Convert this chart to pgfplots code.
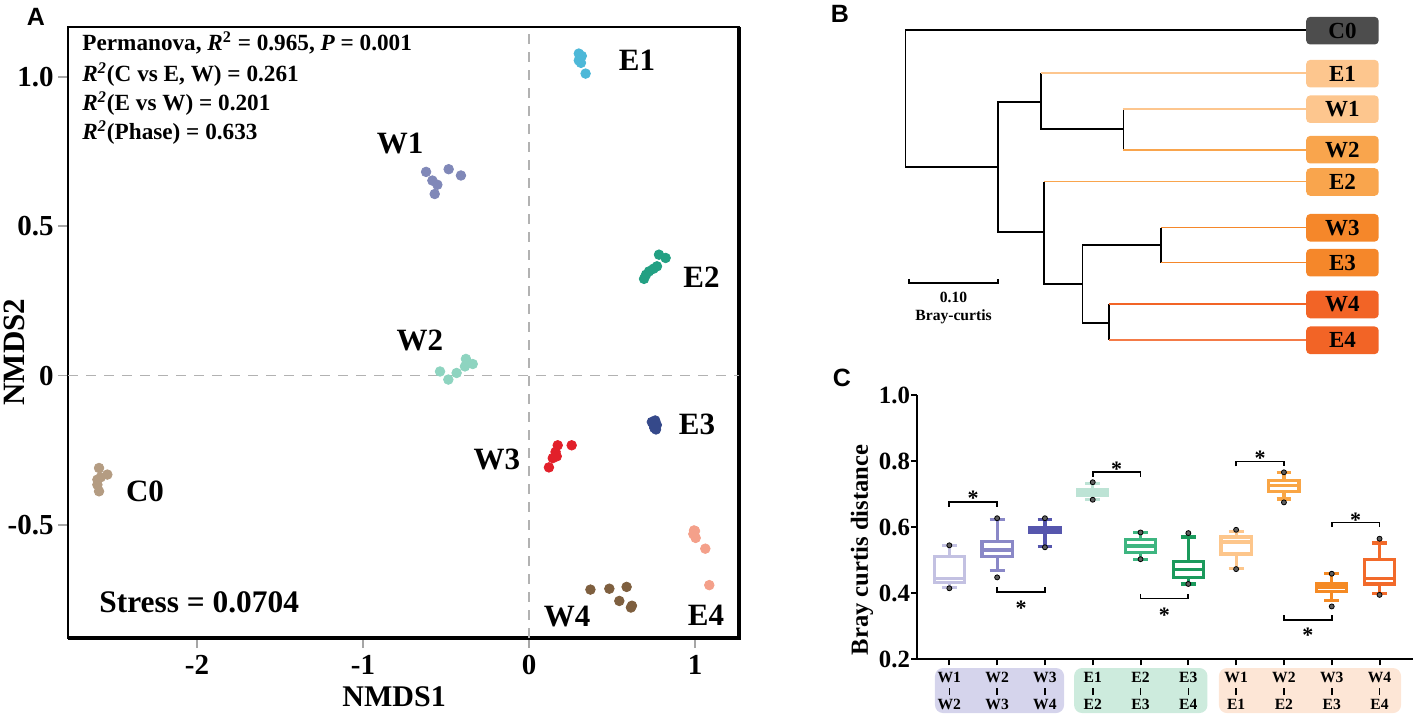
\documentclass[border=0pt]{standalone}
\usepackage{fontspec}
\setmainfont{Liberation Serif}
\newfontfamily\sansfont{Liberation Sans}
\usepackage{pgfplots}
\pgfplotsset{compat=1.18}
\usepgfplotslibrary{statistics}

% scatter colours
\definecolor{cE1}{HTML}{4DB8D8}
\definecolor{cW1}{HTML}{8088B8}
\definecolor{cE2}{HTML}{23A083}
\definecolor{cW2}{HTML}{8ED4C0}
\definecolor{cE3}{HTML}{35498A}
\definecolor{cW3}{HTML}{E2202A}
\definecolor{cC0}{HTML}{B49C82}
\definecolor{cW4}{HTML}{7E5F3F}
\definecolor{cE4}{HTML}{F4A08A}
% dendrogram leaves
\definecolor{lC0}{HTML}{4D4D4D}
\definecolor{lL1}{HTML}{FDC68E}
\definecolor{lL2}{HTML}{F9A54D}
\definecolor{lL3}{HTML}{F5872A}
\definecolor{lL4}{HTML}{F26426}
% boxes
\definecolor{b1}{HTML}{C3C1E2}
\definecolor{b2}{HTML}{8A88C7}
\definecolor{b3}{HTML}{5656AD}
\definecolor{b4}{HTML}{BDE3D5}
\definecolor{b5}{HTML}{3DB580}
\definecolor{b6}{HTML}{1B9A5C}
\definecolor{b7}{HTML}{FDC68B}
\definecolor{b8}{HTML}{F9A545}
\definecolor{b9}{HTML}{F58A24}
\definecolor{b10}{HTML}{F26A2A}
\definecolor{g1}{HTML}{D5D4EC}
\definecolor{g2}{HTML}{CDEBDD}
\definecolor{g3}{HTML}{FDE6D6}
\definecolor{dotgray}{HTML}{5F5F5F}

% 1 px of the 1413 x 714 reference = 0.5bp
\newcommand{\fs}[1]{\fontsize{#1bp}{#1bp}\selectfont}
\newcommand{\pair}[2]{#1\\\rule[0.6bp]{0.8bp}{3.6bp}\\#2}

\pgfplotsset{
  bx/.style={boxplot prepared={#1}, line width=1.6bp,
    boxplot/every box/.style={fill=white},
    boxplot/draw direction=y, boxplot/box extend=0.63, boxplot/whisker extend=0.31},
}

\begin{document}
\begin{tikzpicture}
\path[use as bounding box] (0,0) rectangle (706.5bp,357bp);

\node[font=\sansfont\bfseries\fs{12.5}] at (18bp,348.5bp) {A};
\node[font=\sansfont\bfseries\fs{12.5}] at (420bp,350bp) {B};
\node[font=\sansfont\bfseries\fs{12.5}] at (421bp,168bp) {C};

%%%%%%%%%%%%%%%% panel A : NMDS
\begin{axis}[
  at={(34bp,38bp)}, anchor=south west, scale only axis,
  width=335.5bp, height=305.5bp,
  xmin=-2.777, xmax=1.265, ymin=-0.878, ymax=1.167,
  xtick={-2,-1,0,1}, xticklabels={-2,-1,0,1},
  ytick={-0.5,0,0.5,1}, yticklabels={-0.5,0,0.5,1.0},
  tick pos=left, tick align=outside, major tick length=5bp,
  tick style={draw=gray!70, line width=0.8bp},
  tick label style={font=\bfseries\fs{14.5}},
  yticklabel style={inner xsep=2bp},
  axis line style={line width=1bp},
  xlabel={NMDS1}, ylabel={NMDS2},
  xlabel style={font=\bfseries\fs{15}, at={(axis description cs:0.486,-0.0966)}, anchor=center},
  ylabel style={font=\bfseries\fs{15.5}, inner sep=0pt, at={(axis description cs:-0.0805,0.468)}, anchor=center, rotate=0},
  clip=false,
]
\draw[line width=2bp] (rel axis cs:0,0) -- (rel axis cs:1,0) -- (rel axis cs:1,1);
\addplot[gray!60, line width=0.8bp, dash pattern=on 5bp off 4bp] coordinates {(0,-0.878) (0,1.167)};
\addplot[gray!60, line width=0.8bp, dash pattern=on 5bp off 4bp] coordinates {(-2.777,0) (1.265,0)};

\addplot[only marks, mark=*, mark size=2.4bp, cE1] coordinates {(0.300,1.078)(0.307,1.065)(0.313,1.047)(0.300,1.055)(0.318,1.070)(0.341,1.011)};
\addplot[only marks, mark=*, mark size=2.4bp, cW1] coordinates {(-0.620,0.682)(-0.582,0.653)(-0.552,0.639)(-0.568,0.608)(-0.484,0.691)(-0.410,0.670)};
\addplot[only marks, mark=*, mark size=2.4bp, cW2] coordinates {(-0.536,0.014)(-0.486,-0.013)(-0.436,0.009)(-0.386,0.031)(-0.380,0.056)(-0.339,0.039)};
\addplot[only marks, mark=*, mark size=2.4bp, cE2] coordinates {(0.783,0.405)(0.823,0.394)(0.771,0.366)(0.723,0.349)(0.693,0.324)(0.750,0.358)(0.705,0.338)};
\addplot[only marks, mark=*, mark size=2.4bp, cE3] coordinates {(0.740,-0.155)(0.760,-0.150)(0.750,-0.165)(0.770,-0.165)(0.755,-0.175)(0.765,-0.180)};
\addplot[only marks, mark=*, mark size=2.4bp, cW3] coordinates {(0.173,-0.233)(0.257,-0.233)(0.167,-0.270)(0.143,-0.276)(0.120,-0.307)(0.160,-0.255)};
\addplot[only marks, mark=*, mark size=2.4bp, cC0] coordinates {(-2.590,-0.309)(-2.540,-0.331)(-2.600,-0.348)(-2.590,-0.387)(-2.600,-0.365)(-2.580,-0.340)};
\addplot[only marks, mark=*, mark size=2.4bp, cW4] coordinates {(0.370,-0.716)(0.484,-0.713)(0.588,-0.707)(0.544,-0.754)(0.614,-0.776)(0.620,-0.770)};
\addplot[only marks, mark=*, mark size=2.4bp, cE4] coordinates {(0.994,-0.518)(1.004,-0.543)(1.062,-0.579)(1.086,-0.701)(0.990,-0.530)(1.000,-0.520)};

\begin{scope}[every node/.style={font=\bfseries\fs{15.5}}]
\node at (axis cs:0.651,1.055) {E1};
\node at (axis cs:-0.777,0.777) {W1};
\node at (axis cs:-0.657,0.117) {W2};
\node at (axis cs:1.039,0.328) {E2};
\node at (axis cs:1.012,-0.164) {E3};
\node at (axis cs:-0.193,-0.281) {W3};
\node at (axis cs:-2.313,-0.388) {C0};
\node at (axis cs:0.229,-0.807) {W4};
\node at (axis cs:1.066,-0.803) {E4};
\node[anchor=west, inner sep=0pt, font=\bfseries\fs{15.7}] at (axis cs:-2.590,-0.758) {Stress = 0.0704};
\end{scope}
\end{axis}

\begin{scope}[every node/.style={anchor=base west, inner sep=0pt, font=\bfseries\fs{11.6}}]
\node at (41bp,331.65bp) {Permanova, \textit{R}\textsuperscript{2} = 0.965, \textit{P} = 0.001};
\node at (41bp,316.15bp) {\textit{R\textsuperscript{2}}(C vs E, W) = 0.261};
\node at (41bp,301.65bp) {\textit{R\textsuperscript{2}}(E vs W) = 0.201};
\node at (41bp,287bp) {\textit{R\textsuperscript{2}}(Phase) = 0.633};
\end{scope}

%%%%%%%%%%%%%%%% panel B : dendrogram
\begin{axis}[
  at={(452.75bp,348.5bp)}, anchor=north west, scale only axis,
  width=200.15bp, height=168.5bp,
  xmin=0, xmax=0.45, ymin=17, ymax=354, y dir=reverse,
  hide axis, clip=false,
]
\addplot[black, line width=0.9bp] coordinates {(0.45,30)(0,30)(0,167.3)(0.104,167.3)};
\addplot[black, line width=0.9bp] coordinates {(0.152,102.3)(0.104,102.3)(0.104,232.3)(0.156,232.3)};
\addplot[black, line width=0.9bp] coordinates {(0.152,73.3)(0.152,129.3)(0.245,129.3)};
\addplot[black, line width=0.9bp] coordinates {(0.245,109.3)(0.245,150)};
\addplot[black, line width=0.9bp] coordinates {(0.156,181.7)(0.156,284.3)(0.199,284.3)};
\addplot[black, line width=0.9bp] coordinates {(0.287,245)(0.199,245)(0.199,322.7)(0.229,322.7)};
\addplot[black, line width=0.9bp] coordinates {(0.287,227.7)(0.287,262.7)};
\addplot[black, line width=0.9bp] coordinates {(0.229,304.3)(0.229,340)};
\addplot[lL1, line width=0.8bp] coordinates {(0.152,73.3)(0.45,73.3)};
\addplot[lL1, line width=0.8bp] coordinates {(0.245,109.3)(0.45,109.3)};
\addplot[lL2, line width=0.8bp] coordinates {(0.245,150)(0.45,150)};
\addplot[lL2, line width=0.8bp] coordinates {(0.156,181.7)(0.45,181.7)};
\addplot[lL3, line width=0.8bp] coordinates {(0.287,227.7)(0.45,227.7)};
\addplot[lL3, line width=0.8bp] coordinates {(0.287,262.7)(0.45,262.7)};
\addplot[lL4, line width=0.8bp] coordinates {(0.229,304.3)(0.45,304.3)};
\addplot[lL4!85, line width=0.8bp] coordinates {(0.229,340)(0.45,340)};
% scale bar
\addplot[black, line width=0.9bp] coordinates {(0.004,279)(0.004,283.3)(0.104,283.3)(0.104,279)};
\node[font=\bfseries\fs{7.8}] at (axis cs:0.054,297.7) {0.10};
\node[font=\bfseries\fs{7.8}] at (axis cs:0.054,316.7) {Bray-curtis};

\begin{scope}[every node/.style={anchor=west, inner sep=0pt, rounded corners=2bp,
    minimum width=36.25bp, minimum height=13.8bp, font=\bfseries\fs{11.5}}]
\node[fill=lC0] at (axis cs:0.45,30.7) {C0};
\node[fill=lL1] at (axis cs:0.45,73.7) {E1};
\node[fill=lL1] at (axis cs:0.45,109.2) {W1};
\node[fill=lL2] at (axis cs:0.45,149.7) {W2};
\node[fill=lL2] at (axis cs:0.45,182) {E2};
\node[fill=lL3] at (axis cs:0.45,227.8) {W3};
\node[fill=lL3] at (axis cs:0.45,262.7) {E3};
\node[fill=lL4] at (axis cs:0.45,304.5) {W4};
\node[fill=lL4] at (axis cs:0.45,340.3) {E4};
\end{scope}
\end{axis}

%%%%%%%%%%%%%%%% panel C : box plots
\begin{axis}[
  at={(458.65bp,27.35bp)}, anchor=south west, scale only axis,
  width=247.85bp, height=132.15bp,
  xmin=-0.67, xmax=9.70, ymin=0.2, ymax=1.0,
  axis x line=bottom, axis y line=left,
  axis line style={line width=1bp, -},
  axis on top, clip=false,
  tick align=outside, major tick length=3bp,
  tick style={black, line width=1bp},
  ytick={0.2,0.4,0.6,0.8,1.0}, yticklabels={0.2,0.4,0.6,0.8,1.0},
  yticklabel style={font=\bfseries\fs{12.4}, inner xsep=0.5bp},
  xtick={0,...,9},
  xticklabels={{\pair{W1}{W2}},{\pair{W2}{W3}},{\pair{W3}{W4}},
               {\pair{E1}{E2}},{\pair{E2}{E3}},{\pair{E3}{E4}},
               {\pair{W1}{E1}},{\pair{W2}{E2}},{\pair{W3}{E3}},{\pair{W4}{E4}}},
  xticklabel style={align=center, font=\bfseries\fontsize{7.8bp}{6.8bp}\selectfont},
  ylabel={Bray curtis distance},
  ylabel style={font=\bfseries\fs{12.3}, at={(axis description cs:-0.1116,0.4135)}, anchor=center},
]
% shaded groups behind the category labels
\addplot[fill=g1, draw=none, rounded corners=4bp] coordinates {(-0.30,0.1736)(2.40,0.1736)(2.40,0.0373)(-0.30,0.0373)} -- cycle;
\addplot[fill=g2, draw=none, rounded corners=4bp] coordinates {(2.61,0.1736)(5.40,0.1736)(5.40,0.0373)(2.61,0.0373)} -- cycle;
\addplot[fill=g3, draw=none, rounded corners=4bp] coordinates {(5.64,0.1736)(9.45,0.1736)(9.45,0.0373)(5.64,0.0373)} -- cycle;

\addplot[b1, bx={lower whisker=0.418, lower quartile=0.433, median=0.445, upper quartile=0.512, upper whisker=0.545, draw position=0}] coordinates {};
\addplot[b2, bx={lower whisker=0.469, lower quartile=0.511, median=0.531, upper quartile=0.557, upper whisker=0.624, draw position=1}] coordinates {};
\addplot[b3, bx={lower whisker=0.541, lower quartile=0.584, median=0.592, upper quartile=0.600, upper whisker=0.624, draw position=2}] coordinates {};
\addplot[b4, bx={lower whisker=0.683, lower quartile=0.695, median=0.705, upper quartile=0.715, upper whisker=0.733, draw position=3}] coordinates {};
\addplot[b5, bx={lower whisker=0.503, lower quartile=0.523, median=0.543, upper quartile=0.562, upper whisker=0.584, draw position=4}] coordinates {};
\addplot[b6, bx={lower whisker=0.428, lower quartile=0.448, median=0.473, upper quartile=0.496, upper whisker=0.570, draw position=5}] coordinates {};
\addplot[b7, bx={lower whisker=0.475, lower quartile=0.519, median=0.555, upper quartile=0.570, upper whisker=0.587, draw position=6}] coordinates {};
\addplot[b8, bx={lower whisker=0.685, lower quartile=0.708, median=0.725, upper quartile=0.741, upper whisker=0.766, draw position=7}] coordinates {};
\addplot[b9, bx={lower whisker=0.378, lower quartile=0.405, median=0.418, upper quartile=0.428, upper whisker=0.459, draw position=8}] coordinates {};
\addplot[b10, bx={lower whisker=0.398, lower quartile=0.428, median=0.445, upper quartile=0.503, upper whisker=0.552, draw position=9}] coordinates {};

% min / max observations
\addplot[only marks, mark=*, mark size=1.25bp, draw=none, fill=dotgray] coordinates {
  (0,0.545)(0,0.415)(1,0.627)(1,0.448)(2,0.627)(2,0.539)(3,0.736)(3,0.683)
  (4,0.584)(4,0.503)(5,0.582)(5,0.428)(6,0.592)(6,0.473)(7,0.766)(7,0.675)
  (8,0.459)(8,0.360)(9,0.565)(9,0.395)};

% significance brackets
\addplot[black, line width=0.9bp] coordinates {(0,0.661)(0,0.676)(1,0.676)(1,0.661)};
\addplot[black, line width=0.9bp] coordinates {(1,0.418)(1,0.403)(2,0.403)(2,0.418)};
\addplot[black, line width=0.9bp] coordinates {(3,0.752)(3,0.766)(4,0.766)(4,0.752)};
\addplot[black, line width=0.9bp] coordinates {(4,0.398)(4,0.384)(5,0.384)(5,0.398)};
\addplot[black, line width=0.9bp] coordinates {(6,0.784)(6,0.799)(7,0.799)(7,0.784)};
\addplot[black, line width=0.9bp] coordinates {(7,0.334)(7,0.319)(8,0.319)(8,0.334)};
\addplot[black, line width=0.9bp] coordinates {(8,0.600)(8,0.614)(9,0.614)(9,0.600)};
\begin{scope}[every node/.style={font=\bfseries\fs{11}, yshift=-2.5bp}]
\node at (axis cs:0.5,0.703) {*};
\node at (axis cs:1.5,0.370) {*};
\node at (axis cs:3.5,0.789) {*};
\node at (axis cs:4.5,0.349) {*};
\node at (axis cs:6.5,0.824) {*};
\node at (axis cs:7.5,0.289) {*};
\node at (axis cs:8.5,0.637) {*};
\end{scope}
\end{axis}
\end{tikzpicture}
\end{document}
